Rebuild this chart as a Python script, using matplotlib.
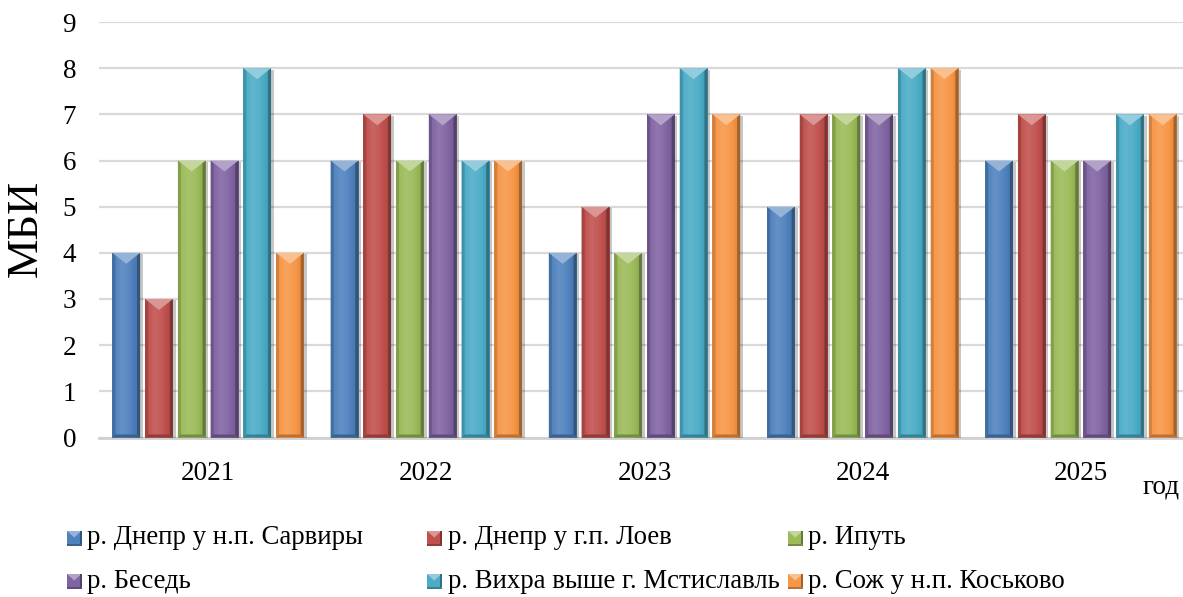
import matplotlib
matplotlib.use('Agg')
import matplotlib.pyplot as plt
import numpy as np
from matplotlib.patches import Polygon, Rectangle
import matplotlib.patheffects as pe
from matplotlib.colors import to_rgb

# ---------------- data ----------------
years = ['2021', '2022', '2023', '2024', '2025']
series_names = ['р. Днепр у н.п. Сарвиры', 'р. Днепр у г.п. Лоев', 'р. Ипуть',
                'р. Беседь', 'р. Вихра выше г. Мстиславль', 'р. Сож у н.п. Коськово']
sarviry = [4, 6, 4, 5, 6]
loev = [3, 7, 5, 7, 7]
iput = [6, 6, 4, 7, 6]
besed = [6, 7, 7, 7, 6]
vikhra = [8, 6, 8, 8, 7]
sozh = [4, 6, 7, 8, 7]
series_values = [sarviry, loev, iput, besed, vikhra, sozh]
y_ticks = list(range(0, 10))
y_label = 'МБИ'
x_label = 'год'

colors = ['#4f81bd', '#c0504d', '#9bbb59', '#8064a2', '#4bacc6', '#f79646']

FONT = 'Liberation Serif'
plt.rcParams['font.family'] = [FONT, 'DejaVu Serif']

W, H = 1183, 597
fig = plt.figure(figsize=(W / 100, H / 100), dpi=100)
ax_left, ax_bottom = 99 / W, 1 - 437.5 / H
ax_w, ax_h = 1091 / W, 415.5 / H
ax = fig.add_axes([ax_left, ax_bottom, ax_w, ax_h])

px_x = 1091 / 5.0        # pixels per category unit
px_y = 415.5 / 9.0       # pixels per value unit


def shade(c, f):
    r = np.array(to_rgb(c))
    if f >= 0:
        return tuple(r + (1 - r) * f)
    return tuple(r * (1 + f))


step = 0.150
width = 0.127
x = np.arange(len(years))
for i, (vals, col) in enumerate(zip(series_values, colors)):
    bars = ax.bar(x + (i - 2.5) * step, vals, width, color=col, zorder=3,
                  linewidth=0,
                  path_effects=[pe.SimplePatchShadow(offset=(2.0, -1.0),
                                                     shadow_rgbFace='#000000',
                                                     alpha=0.22),
                                pe.Normal()])
    for r in bars:
        bx, bw, bh = r.get_x(), r.get_width(), r.get_height()
        # face gradient
        t = np.linspace(0, 1, 40)
        prof = np.interp(t, [0, 0.1, 0.35, 0.6, 0.9, 1.0],
                         [-0.1, 0.02, 0.12, 0.06, -0.08, -0.15])
        img = np.array([[shade(col, f) for f in prof]])
        im = ax.imshow(img, extent=[bx, bx + bw, 0, bh], aspect='auto',
                       zorder=3.1, interpolation='bilinear')
        im.set_clip_path(r)
        ex = 3.0 / px_x
        ey = 3.0 / px_y
        d = 11.0 / px_y
        # left bevel
        ax.add_patch(Polygon([(bx, 0), (bx + ex, ey), (bx + ex, bh - d * 2 * ex / bw),
                              (bx, bh)], closed=True, color=shade(col, -0.15),
                             lw=0, zorder=3.2))
        # right bevel
        ax.add_patch(Polygon([(bx + bw, 0), (bx + bw - ex, ey),
                              (bx + bw - ex, bh - d * 2 * ex / bw), (bx + bw, bh)],
                             closed=True, color=shade(col, -0.35), lw=0, zorder=3.2))
        # bottom bevel
        ax.add_patch(Polygon([(bx, 0), (bx + bw, 0), (bx + bw - ex, ey), (bx + ex, ey)],
                             closed=True, color=shade(col, -0.25), lw=0, zorder=3.2))
        # top chevron
        ax.add_patch(Polygon([(bx, bh), (bx + bw, bh), (bx + bw / 2, bh - d)],
                             closed=True, color=shade(col, 0.4), lw=0, zorder=3.3))

ax.set_xlim(-0.5, 4.5)
ax.set_ylim(0, 9)
ax.set_yticks(y_ticks)
ax.set_yticklabels([str(v) for v in y_ticks], fontsize=19.5, fontfamily=FONT)
ax.set_xticks(x)
ax.set_xticklabels(years, fontsize=19.5, fontfamily=FONT)
ax.tick_params(axis='both', length=0)
ax.tick_params(axis='y', pad=16.5)
ax.tick_params(axis='x', pad=17)
ax.grid(axis='y', color='#d9d9d9', linewidth=1.6, zorder=0)
ax.set_axisbelow(True)
for s in ['top', 'right', 'left']:
    ax.spines[s].set_visible(False)
ax.spines['bottom'].set_color('#d0d0d0')
ax.spines['bottom'].set_linewidth(2)

# axis titles
fig.text(26 / W, 1 - 228 / H, y_label, rotation=90, ha='center', va='center',
         fontsize=32, fontfamily=FONT)
fig.text(1161 / W, 1 - 487 / H, x_label, ha='center', va='center',
         fontsize=19.5, fontfamily=FONT)

# legend (row-major, manual placement)
leg_pos = [(67, 87, 538), (427, 448, 538), (788, 808, 538),
           (67, 87, 581), (427, 448, 581), (788, 808, 581)]
ms = 14.5
for name, col, (mx, tx, ty) in zip(series_names, colors, leg_pos):
    x0, y0 = mx / W, 1 - (ty + 7.5) / H
    wf, hf = ms / W, ms / H
    fig.patches.append(Rectangle((x0, y0), wf, hf, transform=fig.transFigure,
                                 color=col, lw=0))
    fig.patches.append(Polygon([(x0, y0 + hf), (x0 + wf, y0 + hf), (x0 + wf / 2, y0 + hf * 0.55)],
                               closed=True, transform=fig.transFigure,
                               color=shade(col, 0.4), lw=0))
    fig.patches.append(Rectangle((x0 + wf - 2 / W, y0), 2 / W, hf, transform=fig.transFigure,
                                 color=shade(col, -0.35), lw=0))
    fig.patches.append(Rectangle((x0, y0), wf, 2 / H, transform=fig.transFigure,
                                 color=shade(col, -0.25), lw=0))
    fig.text(tx / W, 1 - ty / H, name, ha='left', va='center', fontsize=19.3,
             fontfamily=FONT)

fig.savefig('out.png', dpi=100)
